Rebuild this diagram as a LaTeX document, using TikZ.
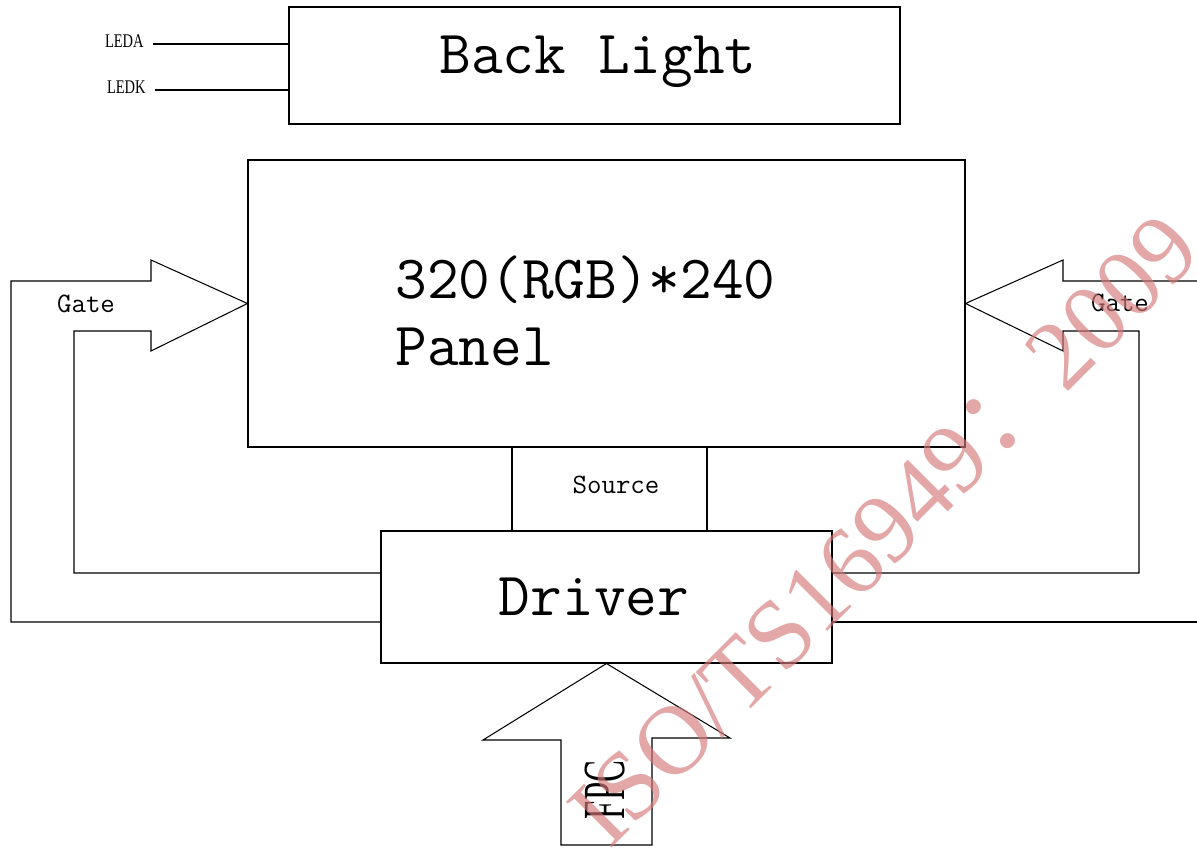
\documentclass[tikz,border=0pt]{standalone}
\usepackage{fontspec}
\usepackage{graphicx}
\usetikzlibrary{positioning,fit}
\newfontfamily\pinfont{Liberation Serif}
\newfontfamily\cjkfont{Noto Sans CJK SC}
\definecolor{wmpink}{RGB}{212,120,120}
\tikzset{
  box/.style={draw, line width=0.6pt, inner sep=0pt},
  big/.style={font=\ttfamily\fontsize{35}{42}\selectfont, inner sep=0pt},
  small/.style={font=\ttfamily\fontsize{16}{18}\selectfont, inner sep=0pt},
  pin/.style={font=\pinfont\fontsize{11}{12}\selectfont, inner sep=0pt},
  wire/.style={line width=0.6pt},
}

\begin{document}
\begin{tikzpicture}[x=0.02cm, y=-0.02cm]
  \useasboundingbox (0,0) rectangle (1197,848);
  % blocks
  \node[box, fit={(289,7) (900,124)}] (bl) {};
  \node[box, fit={(248,160) (965,447)}] (panel) {};
  \node[box, fit={(381,531) (832,663)}] (drv) {};
  \node[big, anchor=base] (bltxt) at (598,74) {Back Light};
  \node[big, anchor=base west] (res) at (395,298) {320(RGB)*240};
  \node[big, anchor=base west] (ptxt) at (395,365) {Panel};
  \node[big, anchor=base] (dtxt) at (594,615) {Driver};
  % backlight pins
  \node[pin, anchor=base east] (leda) at (144,48) {\scalebox{0.75}[1]{LEDA}};
  \node[pin, anchor=base east] (ledk) at (146,94) {\scalebox{0.75}[1]{LEDK}};
  \draw[wire] (153,44) -- (bl.west |- 153,44);
  \draw[wire] (155,90) -- (bl.west |- 155,90);
  % source bus
  \coordinate (srcL) at (512,447);
  \coordinate (srcR) at (707,447);
  \draw[wire] (srcL) -- (srcL |- drv.north);
  \draw[wire] (srcR) -- (srcR |- drv.north);
  \node[small, anchor=base] (src) at (616,493) {Source};
  % gate arrows
  \draw[wire] (drv.west |- 0,622) -- (11,622) -- (11,281) -- (151,281) -- (151,260)
    -- (panel.west) -- (151,351) -- (151,331) -- (74,331) -- (74,573) -- (drv.west |- 0,573);
  \node[small, anchor=base] (gl) at (86,312) {Gate};
  \draw[wire] (1197,281) -- (1063,281) -- (1063,260) -- (panel.east) -- (1063,351)
    -- (1063,331) -- (1139,331) -- (1139,573) -- (drv.east |- 0,573);
  \draw[wire] (drv.east |- 0,622) -- (1197,622);
  \node[small, anchor=base] (gr) at (1120,311) {Gate};
  % fpc input
  \draw[wire] (drv.south) -- (730,738) -- (652,738) -- (652,845) -- (561,845)
    -- (561,740) -- (483,740) -- cycle;
  \node[pin, rotate=90, font=\pinfont\fontsize{34}{36}\selectfont] (fpc) at (605,790) {\scalebox{0.55}[1]{FPC}};
  % watermark
  \node[rotate=45, text=wmpink, opacity=0.65, inner sep=0pt,
        font=\pinfont\fontsize{56}{60}\selectfont] (wm) at (884,530)
        {ISO/TS16949{\cjkfont ：}2009};
\end{tikzpicture}
\end{document}
